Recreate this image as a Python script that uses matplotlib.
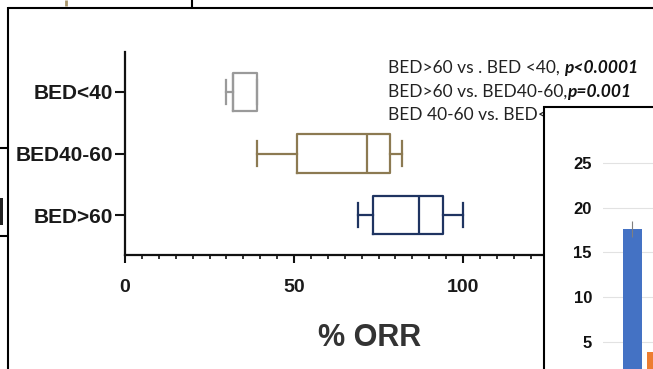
import matplotlib
matplotlib.use("Agg")
import matplotlib.pyplot as plt
from matplotlib.lines import Line2D
from matplotlib.patches import Rectangle
from matplotlib.ticker import MultipleLocator

W, H = 653, 369

# ---- main chart data (horizontal box plots, % ORR) ----
categories = ["BED>60", "BED40-60", "BED<40"]
whislo = [69, 39, 30]
q1 = [73.5, 51, 32]
med = [87, 71.5, 32]
q3 = [94, 78.5, 39]
whishi = [100, 82, 39]
box_colors = ["#1f3461", "#8c7a52", "#9a9a9a"]
x_ticks = [0, 50, 100]
x_label = "% ORR"
comparisons = ["BED>60 vs . BED <40, ", "BED>60 vs. BED40-60,", "BED 40-60 vs. BED<40"]
pvalues = ["p<0.0001", "p=0.001", ""]

# ---- overlapping inset bar chart (partially visible) ----
inset_series = ["series 1", "series 2"]
inset_values = [17.6, 3.9]
inset_err = [0.9, 0.0]
inset_colors = ["#4472c4", "#ed7d31"]
inset_yticks = [5, 10, 15, 20, 25]


def fx(x):
    return x / W


def fy(y):
    return 1 - y / H


fig = plt.figure(figsize=(W / 100, H / 100), dpi=100)
fig.patch.set_facecolor("white")
FONT = "Liberation Sans"
ANN_FONT = "Lato"
ANN_SIZE = 12.5

# ---------------- main axes ----------------
ax = fig.add_axes([fx(125), fy(255), (547.5 - 125) / W, (255 - 52) / H], zorder=1)
ax.set_facecolor("none")
stats = []
for i, c in enumerate(categories):
    stats.append(dict(label=c, whislo=whislo[i], q1=q1[i], med=med[i],
                      q3=q3[i], whishi=whishi[i], fliers=[]))
pos = list(range(len(categories)))
res = ax.bxp(stats, positions=pos, orientation="horizontal", widths=0.63,
             capwidths=0.4, showfliers=False)
for i, col in enumerate(box_colors):
    for key in ("boxes", "medians"):
        res[key][i].set_color(col)
        res[key][i].set_linewidth(1.6)
    for key in ("whiskers", "caps"):
        for ln in res[key][2 * i:2 * i + 2]:
            ln.set_color(col)
            ln.set_linewidth(1.6)

ax.set_xlim(0, 125)
ax.set_ylim(-0.65, 2.65)
ax.set_yticks(pos)
ax.set_yticklabels(categories, fontfamily=FONT, fontweight="bold", fontsize=15,
                   color="#1a1a1a")
ax.set_xticks(x_ticks)
ax.set_xticklabels([str(t) for t in x_ticks], fontfamily=FONT, fontweight="bold",
                   fontsize=14, color="#1a1a1a")
ax.xaxis.set_minor_locator(MultipleLocator(5))
ax.tick_params(axis="y", length=7, width=1.5, pad=1.5, color="#111111")
ax.tick_params(axis="x", which="major", length=6, width=1.5, pad=11, color="#111111")
ax.tick_params(axis="x", which="minor", length=3, width=1.2, color="#111111")
for s in ("top", "right"):
    ax.spines[s].set_visible(False)
for s in ("left", "bottom"):
    ax.spines[s].set_linewidth(1.6)
    ax.spines[s].set_color("#111111")

fig.text(fx(370), fy(338), x_label, fontfamily=FONT, fontweight="bold", fontsize=22,
         color="#333333", ha="center", va="center", zorder=1)

# comparisons with bold italic p-values
ys = [68, 92, 115]
for comp, p, y in zip(comparisons, pvalues, ys):
    t1 = ax.text(fx(388), fy(y), comp, transform=fig.transFigure, fontfamily=ANN_FONT,
                 fontsize=ANN_SIZE, color="#222222", ha="left", va="center",
                 clip_on=False)
    if p:
        ax.annotate(p, xy=(1, 0), xycoords=t1, fontfamily=ANN_FONT, fontsize=ANN_SIZE,
                    fontweight="bold", fontstyle="italic", color="#111111",
                    ha="left", va="bottom", annotation_clip=False)

# ---------------- inset frame and bar chart ----------------
frame = Rectangle((fx(544), -0.3), 1.0, fy(107) + 0.3, transform=fig.transFigure,
                  facecolor="white", edgecolor="black", linewidth=1.5, zorder=5)
fig.add_artist(frame)

ax2 = fig.add_axes([fx(603), fy(386.5), 100 / W, (386.5 - 130) / H], zorder=6)
ax2.set_facecolor("white")
ax2.set_ylim(0, 28.7)
ax2.set_xlim(-0.76, 1.075)
offsets = [-0.22, 0.22]
for i in range(len(inset_series)):
    ax2.bar(offsets[i], inset_values[i], width=0.35, color=inset_colors[i], zorder=3)
ax2.errorbar(offsets[0], inset_values[0], yerr=inset_err[0], color="#7f7f7f",
             linewidth=0.8, capsize=0, zorder=4)
ax2.set_yticks(inset_yticks)
ax2.set_yticklabels([str(v) for v in inset_yticks], fontfamily=FONT,
                    fontweight="bold", fontsize=12, color="#111111")
ax2.tick_params(axis="y", length=0, pad=8)
ax2.set_xticks([])
ax2.grid(axis="y", color="#e2e2e2", linewidth=0.8, zorder=0)
for s in ax2.spines.values():
    s.set_visible(False)

# ---------------- collage edges ----------------
def seg(x0, y0, x1, y1, color="black", lw=1.5):
    fig.add_artist(Line2D([fx(x0), fx(x1)], [fy(y0), fy(y1)], transform=fig.transFigure,
                          color=color, linewidth=lw, zorder=7, solid_capstyle="butt"))

seg(8, 7.5, 653, 7.5)
seg(8, 7, 8, 369)
seg(192, 0, 192, 7)
seg(66, 0, 66, 6, color="#a8956a", lw=2)
seg(0, 148, 8, 148)
seg(0, 236, 8, 236)
fig.add_artist(Rectangle((0, fy(225)), fx(3), fy(198) - fy(225), transform=fig.transFigure,
                         facecolor="#222222", edgecolor="none", zorder=7))

fig.savefig("out.png", dpi=100)
